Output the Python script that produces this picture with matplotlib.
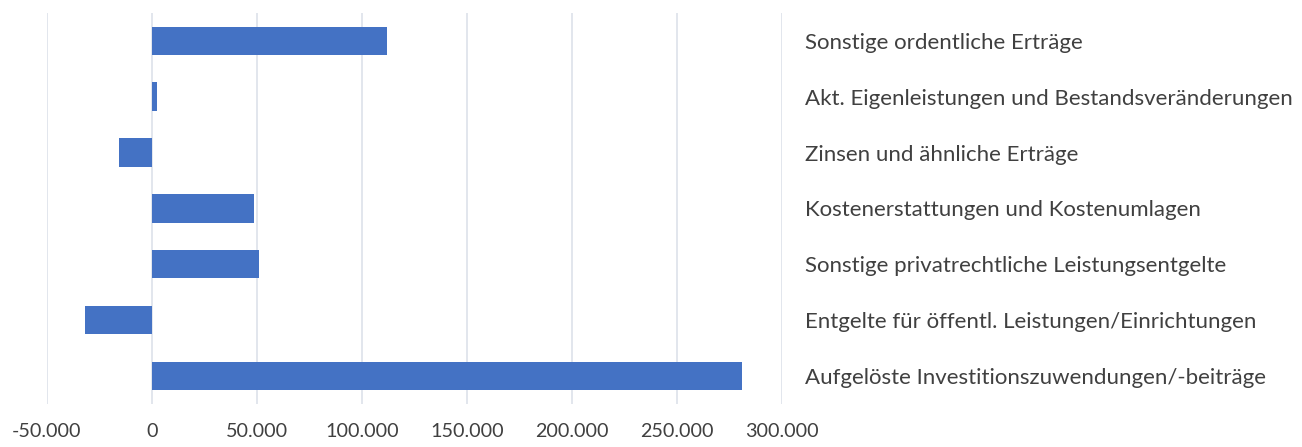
import matplotlib
matplotlib.use("Agg")
import matplotlib.pyplot as plt
from matplotlib.ticker import FuncFormatter, MultipleLocator

# categories top to bottom
categories = [
    "Sonstige ordentliche Erträge",
    "Akt. Eigenleistungen und Bestandsveränderungen",
    "Zinsen und ähnliche Erträge",
    "Kostenerstattungen und Kostenumlagen",
    "Sonstige privatrechtliche Leistungsentgelte",
    "Entgelte für öffentl. Leistungen/Einrichtungen",
    "Aufgelöste Investitionszuwendungen/-beiträge",
]
values = [112200, 2400, -15400, 48700, 51200, -31800, 281000]

plt.rcParams['font.family'] = ['Lato', 'DejaVu Sans']

fig = plt.figure(figsize=(13.02, 4.47), dpi=100)
W, H = 1302, 447
ax = fig.add_axes([46.7 / W, 1 - 403.7 / H, 735 / W, 390.7 / H])

ypos = list(range(len(categories)))[::-1]
ax.barh(ypos, values, height=0.51, color='#4472C4', zorder=3)

ax.set_xlim(-50000, 300000)
ax.set_ylim(-0.5, len(categories) - 0.5)
ax.xaxis.set_major_locator(MultipleLocator(50000))
ax.xaxis.set_major_formatter(FuncFormatter(lambda v, p: f"{int(v):,}".replace(",", ".")))
ax.grid(axis='x', color='#DDE2EA', linewidth=1.2, zorder=0)

ax.yaxis.tick_right()
ax.set_yticks(ypos)
ax.set_yticklabels(categories, ha='left')
ax.tick_params(axis='y', length=0, pad=16.5, labelsize=16, labelcolor='#404040')
ax.tick_params(axis='x', length=0, pad=14, labelsize=14.2, labelcolor='#404040')

for s in ax.spines.values():
    s.set_visible(False)

fig.savefig("out.png", dpi=100)
